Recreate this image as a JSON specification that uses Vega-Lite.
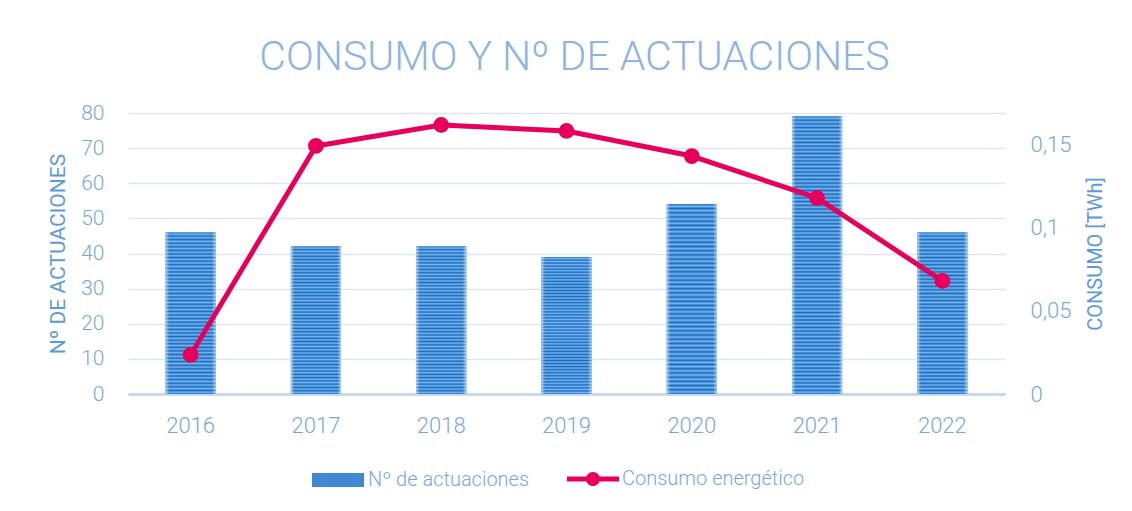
{
  "$schema": "https://vega.github.io/schema/vega-lite/v6.json",
  "width": 877,
  "height": 281,
  "autosize": {"type": "none"},
  "padding": {"left": 128, "top": 113, "right": 127, "bottom": 117},
  "background": "white",
  "config": {"view": {"stroke": null}},
  "title": {
    "text": "CONSUMO Y Nº DE ACTUACIONES",
    "font": "Roboto",
    "fontSize": 41,
    "fontWeight": 300,
    "color": "#8db4e2",
    "anchor": "middle",
    "frame": "group",
    "baseline": "alphabetic",
    "offset": -9,
    "dx": 8
  },
  "data": {
    "values": [
      {"year": "2016", "n": 46, "c": 0.0235},
      {"year": "2017", "n": 42, "c": 0.1492},
      {"year": "2018", "n": 42, "c": 0.1618},
      {"year": "2019", "n": 39, "c": 0.1582},
      {"year": "2020", "n": 54, "c": 0.1431},
      {"year": "2021", "n": 79, "c": 0.1179},
      {"year": "2022", "n": 46, "c": 0.068}
    ]
  },
  "encoding": {
    "x": {
      "field": "year",
      "type": "ordinal",
      "scale": {"paddingInner": 0.6, "paddingOuter": 0.3},
      "axis": {
        "title": null,
        "labelAngle": 0,
        "ticks": false,
        "grid": false,
        "domain": true,
        "domainColor": "#c6d9ef",
        "domainWidth": 3,
        "labelPadding": 21,
        "labelFont": "Roboto",
        "labelFontWeight": 300,
        "labelFontSize": 22,
        "labelColor": "#7ba7d7"
      }
    }
  },
  "layer": [
    {
      "layer": [
        {
          "mark": {"type": "bar"},
          "encoding": {
            "y": {
              "field": "n",
              "type": "quantitative",
              "scale": {"domain": [0, 80]},
              "axis": {
                "values": [0, 10, 20, 30, 40, 50, 60, 70, 80],
                "tickCount": 9,
                "labelOverlap": false,
                "grid": true,
                "gridColor": "#dde7f3",
                "gridWidth": 1.5,
                "domain": false,
                "ticks": false,
                "labelPadding": 24,
                "labelFont": "Roboto",
                "labelFontWeight": 300,
                "labelFontSize": 21,
                "labelColor": "#7ba7d7",
                "title": "Nº DE ACTUACIONES",
                "titleFont": "Roboto",
                "titleFontSize": 21,
                "titleFontWeight": "normal",
                "titleColor": "#5b9bd5",
                "titlePadding": 12
              }
            },
            "fill": {
              "datum": "Nº de actuaciones",
              "scale": {"range": ["#3f89d3"]},
              "legend": {
                "title": null,
                "orient": "none",
                "legendX": 183,
                "legendY": 340,
                "symbolType": "M-1,-0.27H1V0.27H-1Z",
                "symbolSize": 2704,
                "labelFont": "Roboto",
                "labelFontWeight": 300,
                "labelFontSize": 20,
                "labelColor": "#7ba7d7",
                "labelOffset": 3,
                "labelLimit": 300
              }
            }
          }
        },
        {
          "mark": {"type": "bar"},
          "encoding": {
            "y": {"field": "n", "type": "quantitative"},
            "fill": {
              "condition": {
                "test": "datum.n > 60",
                "value": {"gradient": "linear", "x1": 0, "y1": 0, "x2": 0, "y2": 1, "stops": [
                  {"offset": 0, "color": "#176bc4"}, {"offset": 0.0067, "color": "#7ab6ea"}, {"offset": 0.0133, "color": "#176bc4"}, {"offset": 0.02, "color": "#7ab6ea"}, {"offset": 0.0267, "color": "#176bc4"}, {"offset": 0.0333, "color": "#7ab6ea"}, {"offset": 0.04, "color": "#176bc4"}, {"offset": 0.0467, "color": "#7ab6ea"}, {"offset": 0.0533, "color": "#176bc4"}, {"offset": 0.06, "color": "#7ab6ea"}, {"offset": 0.0667, "color": "#176bc4"}, {"offset": 0.0733, "color": "#7ab6ea"}, {"offset": 0.08, "color": "#176bc4"}, {"offset": 0.0867, "color": "#7ab6ea"}, {"offset": 0.0933, "color": "#176bc4"},
                  {"offset": 0.1, "color": "#7ab6ea"}, {"offset": 0.1067, "color": "#176bc4"}, {"offset": 0.1133, "color": "#7ab6ea"}, {"offset": 0.12, "color": "#176bc4"}, {"offset": 0.1267, "color": "#7ab6ea"}, {"offset": 0.1333, "color": "#176bc4"}, {"offset": 0.14, "color": "#7ab6ea"}, {"offset": 0.1467, "color": "#176bc4"}, {"offset": 0.1533, "color": "#7ab6ea"}, {"offset": 0.16, "color": "#176bc4"}, {"offset": 0.1667, "color": "#7ab6ea"}, {"offset": 0.1733, "color": "#176bc4"}, {"offset": 0.18, "color": "#7ab6ea"}, {"offset": 0.1867, "color": "#176bc4"}, {"offset": 0.1933, "color": "#7ab6ea"},
                  {"offset": 0.2, "color": "#176bc4"}, {"offset": 0.2067, "color": "#7ab6ea"}, {"offset": 0.2133, "color": "#176bc4"}, {"offset": 0.22, "color": "#7ab6ea"}, {"offset": 0.2267, "color": "#176bc4"}, {"offset": 0.2333, "color": "#7ab6ea"}, {"offset": 0.24, "color": "#176bc4"}, {"offset": 0.2467, "color": "#7ab6ea"}, {"offset": 0.2533, "color": "#176bc4"}, {"offset": 0.26, "color": "#7ab6ea"}, {"offset": 0.2667, "color": "#176bc4"}, {"offset": 0.2733, "color": "#7ab6ea"}, {"offset": 0.28, "color": "#176bc4"}, {"offset": 0.2867, "color": "#7ab6ea"}, {"offset": 0.2933, "color": "#176bc4"},
                  {"offset": 0.3, "color": "#7ab6ea"}, {"offset": 0.3067, "color": "#176bc4"}, {"offset": 0.3133, "color": "#7ab6ea"}, {"offset": 0.32, "color": "#176bc4"}, {"offset": 0.3267, "color": "#7ab6ea"}, {"offset": 0.3333, "color": "#176bc4"}, {"offset": 0.34, "color": "#7ab6ea"}, {"offset": 0.3467, "color": "#176bc4"}, {"offset": 0.3533, "color": "#7ab6ea"}, {"offset": 0.36, "color": "#176bc4"}, {"offset": 0.3667, "color": "#7ab6ea"}, {"offset": 0.3733, "color": "#176bc4"}, {"offset": 0.38, "color": "#7ab6ea"}, {"offset": 0.3867, "color": "#176bc4"}, {"offset": 0.3933, "color": "#7ab6ea"},
                  {"offset": 0.4, "color": "#176bc4"}, {"offset": 0.4067, "color": "#7ab6ea"}, {"offset": 0.4133, "color": "#176bc4"}, {"offset": 0.42, "color": "#7ab6ea"}, {"offset": 0.4267, "color": "#176bc4"}, {"offset": 0.4333, "color": "#7ab6ea"}, {"offset": 0.44, "color": "#176bc4"}, {"offset": 0.4467, "color": "#7ab6ea"}, {"offset": 0.4533, "color": "#176bc4"}, {"offset": 0.46, "color": "#7ab6ea"}, {"offset": 0.4667, "color": "#176bc4"}, {"offset": 0.4733, "color": "#7ab6ea"}, {"offset": 0.48, "color": "#176bc4"}, {"offset": 0.4867, "color": "#7ab6ea"}, {"offset": 0.4933, "color": "#176bc4"},
                  {"offset": 0.5, "color": "#7ab6ea"}, {"offset": 0.5067, "color": "#176bc4"}, {"offset": 0.5133, "color": "#7ab6ea"}, {"offset": 0.52, "color": "#176bc4"}, {"offset": 0.5267, "color": "#7ab6ea"}, {"offset": 0.5333, "color": "#176bc4"}, {"offset": 0.54, "color": "#7ab6ea"}, {"offset": 0.5467, "color": "#176bc4"}, {"offset": 0.5533, "color": "#7ab6ea"}, {"offset": 0.56, "color": "#176bc4"}, {"offset": 0.5667, "color": "#7ab6ea"}, {"offset": 0.5733, "color": "#176bc4"}, {"offset": 0.58, "color": "#7ab6ea"}, {"offset": 0.5867, "color": "#176bc4"}, {"offset": 0.5933, "color": "#7ab6ea"},
                  {"offset": 0.6, "color": "#176bc4"}, {"offset": 0.6067, "color": "#7ab6ea"}, {"offset": 0.6133, "color": "#176bc4"}, {"offset": 0.62, "color": "#7ab6ea"}, {"offset": 0.6267, "color": "#176bc4"}, {"offset": 0.6333, "color": "#7ab6ea"}, {"offset": 0.64, "color": "#176bc4"}, {"offset": 0.6467, "color": "#7ab6ea"}, {"offset": 0.6533, "color": "#176bc4"}, {"offset": 0.66, "color": "#7ab6ea"}, {"offset": 0.6667, "color": "#176bc4"}, {"offset": 0.6733, "color": "#7ab6ea"}, {"offset": 0.68, "color": "#176bc4"}, {"offset": 0.6867, "color": "#7ab6ea"}, {"offset": 0.6933, "color": "#176bc4"},
                  {"offset": 0.7, "color": "#7ab6ea"}, {"offset": 0.7067, "color": "#176bc4"}, {"offset": 0.7133, "color": "#7ab6ea"}, {"offset": 0.72, "color": "#176bc4"}, {"offset": 0.7267, "color": "#7ab6ea"}, {"offset": 0.7333, "color": "#176bc4"}, {"offset": 0.74, "color": "#7ab6ea"}, {"offset": 0.7467, "color": "#176bc4"}, {"offset": 0.7533, "color": "#7ab6ea"}, {"offset": 0.76, "color": "#176bc4"}, {"offset": 0.7667, "color": "#7ab6ea"}, {"offset": 0.7733, "color": "#176bc4"}, {"offset": 0.78, "color": "#7ab6ea"}, {"offset": 0.7867, "color": "#176bc4"}, {"offset": 0.7933, "color": "#7ab6ea"},
                  {"offset": 0.8, "color": "#176bc4"}, {"offset": 0.8067, "color": "#7ab6ea"}, {"offset": 0.8133, "color": "#176bc4"}, {"offset": 0.82, "color": "#7ab6ea"}, {"offset": 0.8267, "color": "#176bc4"}, {"offset": 0.8333, "color": "#7ab6ea"}, {"offset": 0.84, "color": "#176bc4"}, {"offset": 0.8467, "color": "#7ab6ea"}, {"offset": 0.8533, "color": "#176bc4"}, {"offset": 0.86, "color": "#7ab6ea"}, {"offset": 0.8667, "color": "#176bc4"}, {"offset": 0.8733, "color": "#7ab6ea"}, {"offset": 0.88, "color": "#176bc4"}, {"offset": 0.8867, "color": "#7ab6ea"}, {"offset": 0.8933, "color": "#176bc4"},
                  {"offset": 0.9, "color": "#7ab6ea"}, {"offset": 0.9067, "color": "#176bc4"}, {"offset": 0.9133, "color": "#7ab6ea"}, {"offset": 0.92, "color": "#176bc4"}, {"offset": 0.9267, "color": "#7ab6ea"}, {"offset": 0.9333, "color": "#176bc4"}, {"offset": 0.94, "color": "#7ab6ea"}, {"offset": 0.9467, "color": "#176bc4"}, {"offset": 0.9533, "color": "#7ab6ea"}, {"offset": 0.96, "color": "#176bc4"}, {"offset": 0.9667, "color": "#7ab6ea"}, {"offset": 0.9733, "color": "#176bc4"}, {"offset": 0.98, "color": "#7ab6ea"}, {"offset": 0.9867, "color": "#176bc4"}, {"offset": 0.9933, "color": "#7ab6ea"},
                  {"offset": 1, "color": "#176bc4"}
                ]}
              },
              "value": {"gradient": "linear", "x1": 0, "y1": 0, "x2": 0, "y2": 1, "stops": [
                {"offset": 0, "color": "#176bc4"}, {"offset": 0.0111, "color": "#7ab6ea"}, {"offset": 0.0222, "color": "#176bc4"}, {"offset": 0.0333, "color": "#7ab6ea"}, {"offset": 0.0444, "color": "#176bc4"}, {"offset": 0.0556, "color": "#7ab6ea"}, {"offset": 0.0667, "color": "#176bc4"}, {"offset": 0.0778, "color": "#7ab6ea"}, {"offset": 0.0889, "color": "#176bc4"}, {"offset": 0.1, "color": "#7ab6ea"},
                {"offset": 0.1111, "color": "#176bc4"}, {"offset": 0.1222, "color": "#7ab6ea"}, {"offset": 0.1333, "color": "#176bc4"}, {"offset": 0.1444, "color": "#7ab6ea"}, {"offset": 0.1556, "color": "#176bc4"}, {"offset": 0.1667, "color": "#7ab6ea"}, {"offset": 0.1778, "color": "#176bc4"}, {"offset": 0.1889, "color": "#7ab6ea"}, {"offset": 0.2, "color": "#176bc4"},
                {"offset": 0.2111, "color": "#7ab6ea"}, {"offset": 0.2222, "color": "#176bc4"}, {"offset": 0.2333, "color": "#7ab6ea"}, {"offset": 0.2444, "color": "#176bc4"}, {"offset": 0.2556, "color": "#7ab6ea"}, {"offset": 0.2667, "color": "#176bc4"}, {"offset": 0.2778, "color": "#7ab6ea"}, {"offset": 0.2889, "color": "#176bc4"}, {"offset": 0.3, "color": "#7ab6ea"},
                {"offset": 0.3111, "color": "#176bc4"}, {"offset": 0.3222, "color": "#7ab6ea"}, {"offset": 0.3333, "color": "#176bc4"}, {"offset": 0.3444, "color": "#7ab6ea"}, {"offset": 0.3556, "color": "#176bc4"}, {"offset": 0.3667, "color": "#7ab6ea"}, {"offset": 0.3778, "color": "#176bc4"}, {"offset": 0.3889, "color": "#7ab6ea"}, {"offset": 0.4, "color": "#176bc4"},
                {"offset": 0.4111, "color": "#7ab6ea"}, {"offset": 0.4222, "color": "#176bc4"}, {"offset": 0.4333, "color": "#7ab6ea"}, {"offset": 0.4444, "color": "#176bc4"}, {"offset": 0.4556, "color": "#7ab6ea"}, {"offset": 0.4667, "color": "#176bc4"}, {"offset": 0.4778, "color": "#7ab6ea"}, {"offset": 0.4889, "color": "#176bc4"}, {"offset": 0.5, "color": "#7ab6ea"},
                {"offset": 0.5111, "color": "#176bc4"}, {"offset": 0.5222, "color": "#7ab6ea"}, {"offset": 0.5333, "color": "#176bc4"}, {"offset": 0.5444, "color": "#7ab6ea"}, {"offset": 0.5556, "color": "#176bc4"}, {"offset": 0.5667, "color": "#7ab6ea"}, {"offset": 0.5778, "color": "#176bc4"}, {"offset": 0.5889, "color": "#7ab6ea"}, {"offset": 0.6, "color": "#176bc4"},
                {"offset": 0.6111, "color": "#7ab6ea"}, {"offset": 0.6222, "color": "#176bc4"}, {"offset": 0.6333, "color": "#7ab6ea"}, {"offset": 0.6444, "color": "#176bc4"}, {"offset": 0.6556, "color": "#7ab6ea"}, {"offset": 0.6667, "color": "#176bc4"}, {"offset": 0.6778, "color": "#7ab6ea"}, {"offset": 0.6889, "color": "#176bc4"}, {"offset": 0.7, "color": "#7ab6ea"},
                {"offset": 0.7111, "color": "#176bc4"}, {"offset": 0.7222, "color": "#7ab6ea"}, {"offset": 0.7333, "color": "#176bc4"}, {"offset": 0.7444, "color": "#7ab6ea"}, {"offset": 0.7556, "color": "#176bc4"}, {"offset": 0.7667, "color": "#7ab6ea"}, {"offset": 0.7778, "color": "#176bc4"}, {"offset": 0.7889, "color": "#7ab6ea"}, {"offset": 0.8, "color": "#176bc4"},
                {"offset": 0.8111, "color": "#7ab6ea"}, {"offset": 0.8222, "color": "#176bc4"}, {"offset": 0.8333, "color": "#7ab6ea"}, {"offset": 0.8444, "color": "#176bc4"}, {"offset": 0.8556, "color": "#7ab6ea"}, {"offset": 0.8667, "color": "#176bc4"}, {"offset": 0.8778, "color": "#7ab6ea"}, {"offset": 0.8889, "color": "#176bc4"}, {"offset": 0.9, "color": "#7ab6ea"},
                {"offset": 0.9111, "color": "#176bc4"}, {"offset": 0.9222, "color": "#7ab6ea"}, {"offset": 0.9333, "color": "#176bc4"}, {"offset": 0.9444, "color": "#7ab6ea"}, {"offset": 0.9556, "color": "#176bc4"}, {"offset": 0.9667, "color": "#7ab6ea"}, {"offset": 0.9778, "color": "#176bc4"}, {"offset": 0.9889, "color": "#7ab6ea"}, {"offset": 1, "color": "#176bc4"}
              ]}
            }
          }
        },
        {
          "mark": {
            "type": "bar",
            "fill": {"gradient": "linear", "x1": 0, "y1": 0, "x2": 1, "y2": 0, "stops": [
              {"offset": 0, "color": "rgba(255,255,255,0.55)"},
              {"offset": 0.07, "color": "rgba(255,255,255,0)"},
              {"offset": 0.93, "color": "rgba(255,255,255,0)"},
              {"offset": 1, "color": "rgba(255,255,255,0.55)"}
            ]}
          },
          "encoding": {"y": {"field": "n", "type": "quantitative"}}
        }
      ]
    },
    {
      "mark": {
        "type": "line",
        "strokeWidth": 5,
        "strokeCap": "round",
        "strokeJoin": "round",
        "point": {"filled": true, "size": 190, "color": "#e6005c"}
      },
      "encoding": {
        "y": {
          "field": "c",
          "type": "quantitative",
          "scale": {"domain": [0, 0.169]},
          "axis": {
            "orient": "right",
            "values": [0, 0.05, 0.1, 0.15],
            "labelOverlap": false,
            "labelExpr": "replace(format(datum.value, ''), '.', ',')",
            "grid": false,
            "domain": false,
            "ticks": false,
            "labelPadding": 25,
            "labelFont": "Roboto",
            "labelFontWeight": 300,
            "labelFontSize": 22,
            "labelColor": "#7ba7d7",
            "title": "CONSUMO [TWh]",
            "titleFont": "Roboto",
            "titleFontSize": 20,
            "titleFontWeight": "normal",
            "titleColor": "#5b9bd5",
            "titleAngle": 270,
            "titleBaseline": "top",
            "titlePadding": 15
          }
        },
        "stroke": {
          "datum": "Consumo energético",
          "scale": {"range": ["#e6005c"]},
          "legend": {
            "title": null,
            "orient": "none",
            "legendX": 439,
            "legendY": 340,
            "symbolType": "M-1,-0.096H1V0.096H-1Z M-0.27,0A0.27,0.27 0 1,1 0.27,0A0.27,0.27 0 1,1 -0.27,0Z",
            "symbolSize": 2704,
            "labelFont": "Roboto",
            "labelFontWeight": 300,
            "labelFontSize": 20,
            "labelColor": "#7ba7d7",
            "labelOffset": 3,
            "labelLimit": 300,
            "encode": {
              "symbols": {
                "update": {
                  "fill": {"value": "#e6005c"},
                  "strokeWidth": {"value": 0}
                }
              }
            }
          }
        }
      }
    }
  ],
  "resolve": {"scale": {"y": "independent"}}
}
